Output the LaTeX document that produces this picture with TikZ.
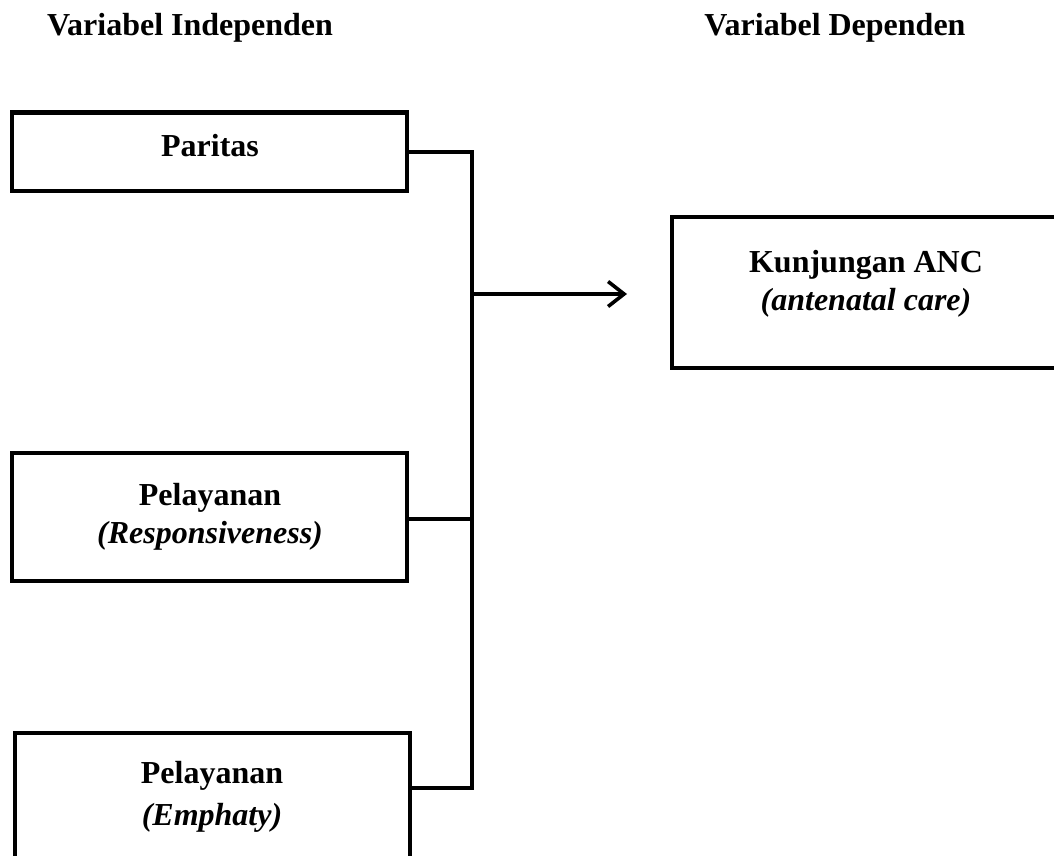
\documentclass[tikz,border=0pt]{standalone}
\usepackage{fontspec}
\setmainfont{Liberation Serif}
\usetikzlibrary{arrows.meta}
\begin{document}
\begin{tikzpicture}[x=1pt,y=-1pt,
  box/.style={draw=black, line width=4.2pt, inner sep=0pt, outer sep=0pt, rectangle},
  lbl/.style={inner sep=0pt, anchor=base, font=\fontsize{32}{38}\selectfont\bfseries},
  ilbl/.style={lbl, font=\fontsize{32}{38}\selectfont\bfseries\itshape},
  conn/.style={draw=black, line width=3.6pt}]
\useasboundingbox (0,0) rectangle (1054,856);
% headers
\node[lbl] (hind) at (190,36) {Variabel Independen};
\node[lbl] (hdep) at (835,36) {Variabel Dependen};
% boxes
\node[box, minimum width=395pt, minimum height=78.5pt] (par) at (209.5,151.8) {};
\node[lbl] (parT) at (210,157) {Paritas};
\node[box, minimum width=395pt, minimum height=128pt] (res) at (209.5,517) {};
\node[lbl] (resT1) at (210,505) {Pelayanan};
\node[ilbl] (resT2) at (210,543) {(Responsiveness)};
\node[box, minimum width=395pt, minimum height=125pt] (emp) at (212.5,795.5) {};
\node[lbl] (empT1) at (212,783) {Pelayanan};
\node[ilbl] (empT2) at (212,825) {(Emphaty)};
\node[box, minimum width=388pt, minimum height=151pt] (anc) at (866,292.5) {};
\node[lbl] (ancT1) at (866,272) {Kunjungan ANC};
\node[ilbl] (ancT2) at (866,310) {(antenatal care)};
% connectors
\coordinate (jtop) at (472,152);
\coordinate (jmid) at (472,519);
\coordinate (jbot) at (472,788);
\coordinate (atip) at (627,294);
\draw[conn] (par.east |- jtop) -- (jtop) -- (jbot) -- (jbot -| emp.east);
\draw[conn] (res.east |- jmid) -- (jmid);
\draw[conn, -{Straight Barb[length=16pt,width=25pt,line width=3.6pt]}] (atip -| jtop) -- (atip);
\end{tikzpicture}
\end{document}
